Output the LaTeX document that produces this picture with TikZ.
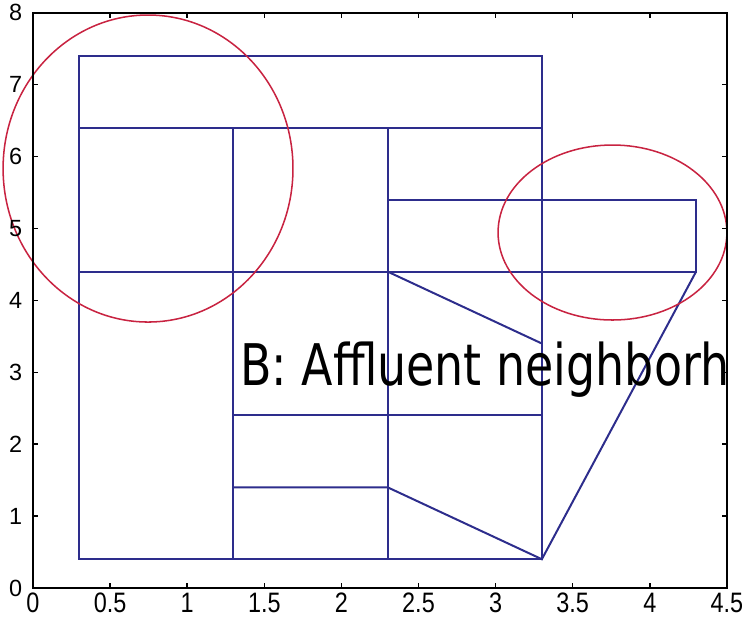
\documentclass[tikz,border=0pt]{standalone}
\usepackage{fontspec}
\setmainfont{Liberation Sans}
\newfontfamily\titelfont{DejaVu Sans}
\definecolor{linie}{RGB}{45,45,140}
\definecolor{kreis}{RGB}{200,35,65}

\begin{document}
\begin{tikzpicture}[x=46.26mm, y=21.57mm, font=\fontsize{20}{22}\selectfont]
        \useasboundingbox (-0.214,-0.431) rectangle (4.598,8.178);

        % Grundriss
        \begin{scope}[draw=linie, line width=1.7pt]
        \draw (0.3,0.4) rectangle (3.3,7.4);
        \draw (0.3,6.4) -- (3.3,6.4);
        \draw (0.3,4.4) -- (4.3,4.4) -- (4.3,5.4) -- (2.3,5.4);
        \draw (1.3,0.4) -- (1.3,6.4);
        \draw (2.3,0.4) -- (2.3,6.4);
        \draw (1.3,2.4) -- (3.3,2.4);
        \draw (1.3,1.4) -- (2.3,1.4) -- (3.3,0.4) -- (4.3,4.4);
        \draw (2.3,4.4) -- (3.3,3.4);
        \end{scope}

        % Markierungen
        \draw[kreis, line width=1.3pt] (0.746,5.834) ellipse [x radius=0.940, y radius=2.135];
        \draw[kreis, line width=1.3pt] (3.758,4.944) ellipse [x radius=0.742, y radius=1.217];

        % Achsen
        \draw[line width=1.7pt] (0,0) rectangle (4.5,8);

        % x-Achse: Ticks und Beschriftung
        \foreach \x [count=\i] in {0,0.5,1,1.5,2,2.5,3,3.5,4,4.5} {
        \draw[line width=1.2pt] (\x,0) -- ++(0,4.3pt);
        \draw[line width=1.2pt] (\x,8) -- ++(0,-4.3pt);
        \node[anchor=north, inner sep=0pt, yshift=-4pt, yscale=1.2, transform shape] (xt\i) at (\x,0) {\x};
        }

        % y-Achse
        \foreach \y in {0,...,8} {
        \draw[line width=1.2pt] (0,\y) -- ++(4.3pt,0);
        \draw[line width=1.2pt] (4.5,\y) -- ++(-4.3pt,0);
        \node[anchor=east, inner sep=0pt, xshift=-9pt] (yt\y) at (0,\y) {\y};
        }

        % Beschriftung
        \node[anchor=base west, inner sep=0pt, xscale=0.8, transform shape,
        font=\titelfont\fontsize{49}{55}\selectfont] (titel) at (1.342,2.823) {B: Affluent neighborh};
    \end{tikzpicture}
\end{document}
